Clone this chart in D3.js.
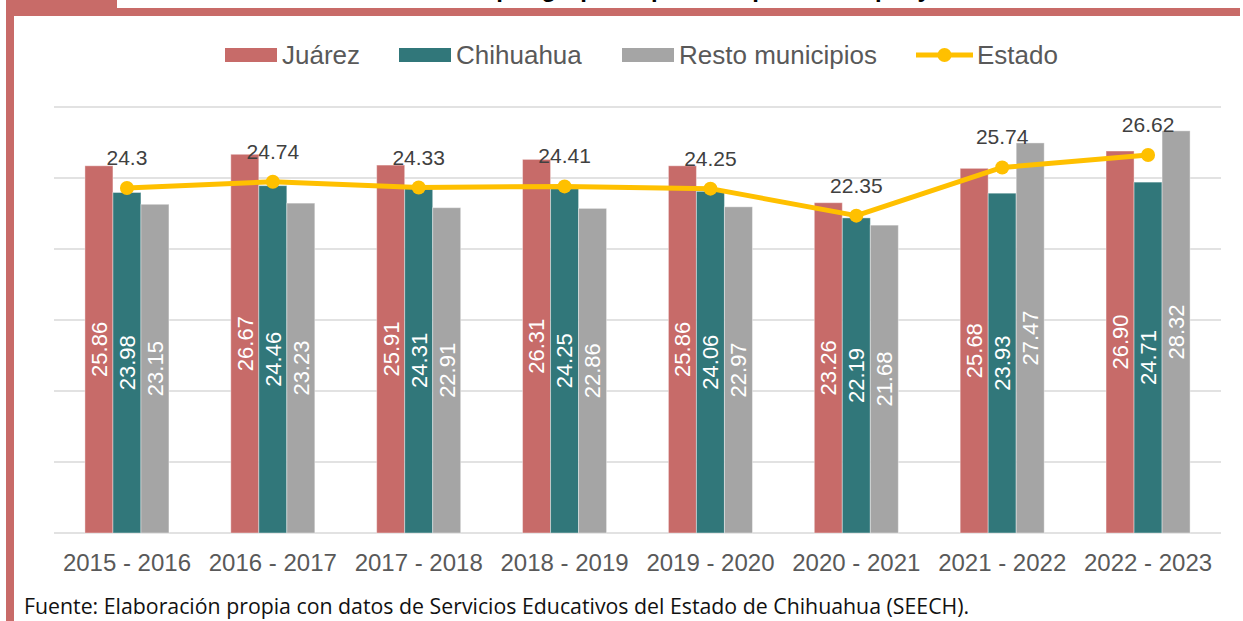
<!DOCTYPE html>
<html>
<head>
<meta charset="utf-8">
<script src="https://cdn.jsdelivr.net/npm/d3@7"></script>
<style>
  body { margin: 0; background: #fff; }
  svg { display: block; }
</style>
</head>
<body>
<div id="chart"></div>
<script>
// school years
var ciclos = ["2015 - 2016", "2016 - 2017", "2017 - 2018", "2018 - 2019",
              "2019 - 2020", "2020 - 2021", "2021 - 2022", "2022 - 2023"];

// series values (students per group)
var juarez    = [25.86, 26.67, 25.91, 26.31, 25.86, 23.26, 25.68, 26.90];
var chihuahua = [23.98, 24.46, 24.31, 24.25, 24.06, 22.19, 23.93, 24.71];
var resto     = [23.15, 23.23, 22.91, 22.86, 22.97, 21.68, 27.47, 28.32];
var estado    = [24.3, 24.74, 24.33, 24.41, 24.25, 22.35, 25.74, 26.62];
var estadoLbl = ["24.3", "24.74", "24.33", "24.41", "24.25", "22.35", "25.74", "26.62"];

var seriesNames = ["Juárez", "Chihuahua", "Resto municipios"];
var yTicks = [0, 5, 10, 15, 20, 25, 30];

var width = 1243, height = 621;
var colors = ["#C76B69", "#31777A", "#A5A5A5"];
var lineColor = "#FFC000";
var red = "#C86B68";

var svg = d3.select("#chart").append("svg")
    .attr("width", width)
    .attr("height", height);

// frame: left bar, top bar and tab
svg.append("rect").attr("x", 6).attr("y", 0).attr("width", 8).attr("height", height).attr("fill", red);
svg.append("rect").attr("x", 6).attr("y", 8).attr("width", 1234).attr("height", 8).attr("fill", red);
svg.append("rect").attr("x", 6).attr("y", 0).attr("width", 111).attr("height", 16).attr("fill", red);

// title, cut off by the top of the picture (only descenders show)
svg.append("text")
    .attr("x", 735).attr("y", -3)
    .attr("text-anchor", "middle")
    .style("font-family", "Liberation Sans, Arial, sans-serif")
    .style("font-weight", "bold")
    .style("font-size", "24px")
    .attr("fill", "#000")
    .text("Alumnos por grupo en primaria por municipio y ciclo escolar");

// plot area
var pLeft = 54, pRight = 1221, pTop = 107, pBottom = 533;

var x0 = d3.scaleBand().domain(ciclos).range([pLeft, pRight]);
var groupW = x0.bandwidth() * 0.576;
var x1 = d3.scaleBand().domain(seriesNames).range([0, groupW]);
var y = d3.scaleLinear().domain([0, 30]).range([pBottom, pTop]);

// gridlines
svg.append("g").selectAll("line")
    .data(yTicks)
    .join("line")
    .attr("x1", pLeft).attr("x2", pRight)
    .attr("y1", function(d) { return y(d); })
    .attr("y2", function(d) { return y(d); })
    .attr("stroke", "#D9D9D9")
    .attr("stroke-width", 1.5);

// bars
var table = ciclos.map(function(c, i) {
    return { ciclo: c, vals: [juarez[i], chihuahua[i], resto[i]] };
});

var groups = svg.append("g").selectAll("g")
    .data(table)
    .join("g")
    .attr("transform", function(d) {
        return "translate(" + (x0(d.ciclo) + (x0.bandwidth() - groupW) / 2) + ",0)";
    });

groups.selectAll("rect")
    .data(function(d) { return d.vals.map(function(v, k) { return { name: seriesNames[k], v: v, k: k }; }); })
    .join("rect")
    .attr("x", function(d) { return x1(d.name); })
    .attr("y", function(d) { return y(d.v); })
    .attr("width", x1.bandwidth())
    .attr("height", function(d) { return y(0) - y(d.v); })
    .attr("fill", function(d) { return colors[d.k]; })
    .attr("stroke", "#fff")
    .attr("stroke-opacity", 0.4)
    .attr("stroke-width", 1);

// rotated value labels inside bars
groups.selectAll("text")
    .data(function(d) { return d.vals.map(function(v, k) { return { name: seriesNames[k], v: v }; }); })
    .join("text")
    .attr("transform", function(d) {
        var cx = x1(d.name) + x1.bandwidth() / 2;
        var cy = (y(d.v) + y(0)) / 2;
        return "translate(" + cx + "," + cy + ") rotate(-90)";
    })
    .attr("text-anchor", "middle")
    .attr("dy", "0.36em")
    .style("font-family", "Liberation Sans, Arial, sans-serif")
    .style("font-size", "22px")
    .attr("fill", "#fff")
    .text(function(d) { return d.v.toFixed(2); });

// Estado line
var pts = ciclos.map(function(c, i) { return { c: c, v: estado[i], lbl: estadoLbl[i] }; });
var line = d3.line()
    .x(function(d) { return x0(d.c) + x0.bandwidth() / 2; })
    .y(function(d) { return y(d.v); });

svg.append("path")
    .datum(pts)
    .attr("d", line)
    .attr("fill", "none")
    .attr("stroke", lineColor)
    .attr("stroke-width", 5)
    .attr("stroke-linejoin", "round");

svg.append("g").selectAll("circle")
    .data(pts)
    .join("circle")
    .attr("cx", function(d) { return x0(d.c) + x0.bandwidth() / 2; })
    .attr("cy", function(d) { return y(d.v); })
    .attr("r", 7)
    .attr("fill", lineColor);

svg.append("g").selectAll("text")
    .data(pts)
    .join("text")
    .attr("x", function(d) { return x0(d.c) + x0.bandwidth() / 2; })
    .attr("y", function(d) { return y(d.v) - 23; })
    .attr("text-anchor", "middle")
    .style("font-family", "Liberation Sans, Arial, sans-serif")
    .style("font-size", "21px")
    .attr("fill", "#404040")
    .text(function(d) { return d.lbl; });

// x axis labels
var xAxis = d3.axisBottom(x0).tickSize(0).tickPadding(0);
var gx = svg.append("g")
    .attr("transform", "translate(0," + pBottom + ")")
    .call(xAxis);
gx.select(".domain").remove();
gx.selectAll("text")
    .attr("y", 38)
    .attr("dy", 0)
    .style("font-family", "Liberation Sans, Arial, sans-serif")
    .style("font-size", "24px")
    .attr("fill", "#595959");

// legend
var legendItems = [
    { name: "Juárez", x: 225, type: "rect", color: colors[0] },
    { name: "Chihuahua", x: 399, type: "rect", color: colors[1] },
    { name: "Resto municipios", x: 622, type: "rect", color: colors[2] },
    { name: "Estado", x: 916, type: "line", color: lineColor }
];
var legend = svg.append("g");
legendItems.forEach(function(it) {
    if (it.type == "rect") {
        legend.append("rect")
            .attr("x", it.x).attr("y", 48)
            .attr("width", 52).attr("height", 14)
            .attr("fill", it.color);
    } else {
        legend.append("line")
            .attr("x1", it.x).attr("x2", it.x + 57)
            .attr("y1", 55).attr("y2", 55)
            .attr("stroke", it.color).attr("stroke-width", 5);
        legend.append("circle")
            .attr("cx", it.x + 28.5).attr("cy", 55).attr("r", 7)
            .attr("fill", it.color);
    }
    legend.append("text")
        .attr("x", it.type == "rect" ? it.x + 57 : it.x + 61)
        .attr("y", 64)
        .style("font-family", "Liberation Sans, Arial, sans-serif")
        .style("font-size", "26px")
        .attr("fill", "#595959")
        .text(it.name);
});

// source note
svg.append("text")
    .attr("x", 24).attr("y", 614)
    .style("font-family", "Open Sans, Noto Sans, sans-serif")
    .style("font-size", "21.3px")
    .attr("fill", "#111")
    .text("Fuente: Elaboración propia con datos de Servicios Educativos del Estado de Chihuahua (SEECH).");
</script>
</body>
</html>
